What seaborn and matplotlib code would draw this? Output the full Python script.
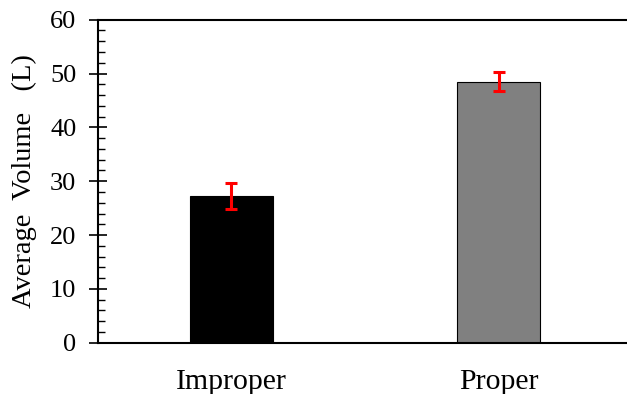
import numpy as np
import pandas as pd
import matplotlib
matplotlib.use("Agg")
import matplotlib.pyplot as plt
import seaborn as sns
from matplotlib.ticker import MultipleLocator

# Data
groups = ["Improper", "Proper"]
avg_volume = [27.2, 48.5]
volume_err = [2.4, 1.8]
bar_colors = ["#000000", "#808080"]

df = pd.DataFrame({"group": groups, "volume": avg_volume})

sns.set_theme(style="white")
plt.rcParams["font.family"] = ["Liberation Serif", "DejaVu Serif"]
plt.rcParams["text.color"] = "black"
plt.rcParams["axes.labelcolor"] = "black"
plt.rcParams["xtick.color"] = "black"
plt.rcParams["ytick.color"] = "black"

fig = plt.figure(figsize=(6.27, 3.94), dpi=100)
ax = fig.add_axes([0.156, 0.130, 0.844, 0.820])

sns.barplot(data=df, x="group", y="volume", hue="group", palette=bar_colors,
            width=0.31, edgecolor="black", linewidth=0.8, legend=False,
            errorbar=None, ax=ax)

ax.errorbar(np.arange(len(groups)), avg_volume, yerr=volume_err, fmt="none",
            ecolor="#ff0000", elinewidth=2.2, capsize=4, capthick=2.2, zorder=5)

ax.set_xlim(-0.5, 1.48)
ax.set_ylim(0, 60)
ax.yaxis.set_major_locator(MultipleLocator(10))
ax.yaxis.set_minor_locator(MultipleLocator(2))

for side in ["left", "top", "bottom"]:
    ax.spines[side].set_visible(True)
    ax.spines[side].set_color("black")
    ax.spines[side].set_linewidth(1.5)
ax.spines["right"].set_visible(False)

ax.tick_params(axis="y", which="major", direction="inout", length=13, width=1.2,
               color="black", labelcolor="black", labelsize=19, pad=9, left=True)
ax.tick_params(axis="y", which="minor", direction="in", length=5, width=1.0,
               color="black", left=True)
ax.tick_params(axis="x", which="both", bottom=False, labelsize=21.5,
               labelcolor="black", pad=13)

ax.set_xlabel("")
ax.set_ylabel("Average  Volume   (L)", fontsize=20.5, labelpad=9, color="black")

fig.savefig("out.png", dpi=100)
